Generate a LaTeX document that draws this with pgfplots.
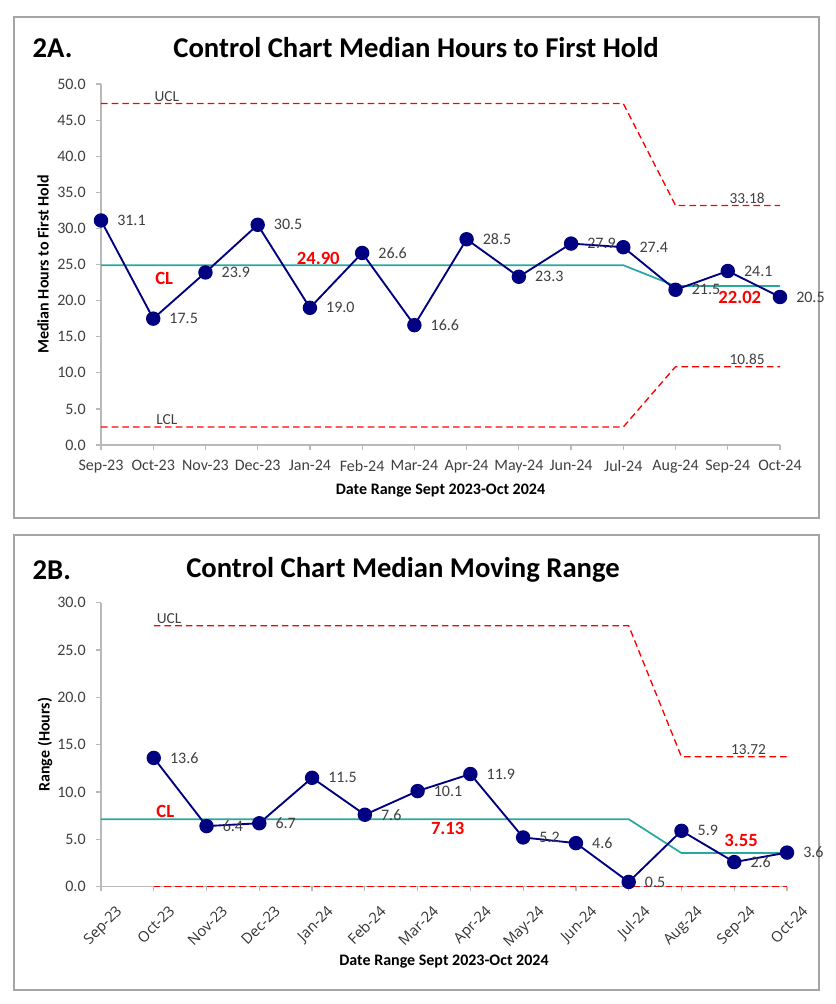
\documentclass[border=0pt]{standalone}
\usepackage{fontspec}
\setmainfont{Carlito}
\newfontfamily\rotfont{Open Sans}
\usepackage{pgfplots}
\usepackage{pgfplotstable}
\pgfplotsset{compat=1.18}

\definecolor{navy}{RGB}{0,0,128}
\definecolor{clteal}{RGB}{40,168,160}
\definecolor{txtgray}{RGB}{64,64,64}
\definecolor{axgray}{RGB}{185,185,185}
\definecolor{framegray}{RGB}{165,165,165}
\definecolor{ctlred}{RGB}{255,0,0}

% 2A: median hours to first hold
\pgfplotstableread{
x y
0 31.1
1 17.5
2 23.9
3 30.5
4 19.0
5 26.6
6 16.6
7 28.5
8 23.3
9 27.9
10 27.4
11 21.5
12 24.1
13 20.5
}\hoursdata

% 2B: moving range
\pgfplotstableread{
x y
1 13.6
2 6.4
3 6.7
4 11.5
5 7.6
6 10.1
7 11.9
8 5.2
9 4.6
10 0.5
11 5.9
12 2.6
13 3.6
}\rangedata

\pgfplotsset{
  ctl/.style={
    scale only axis, xmin=0, xmax=13, ymin=0, clip=false,
    axis x line*=bottom, axis y line*=left,
    axis line style={axgray, line width=0.9pt},
    tick style={axgray, line width=0.9pt},
    tick align=outside, major tick length=3.5pt,
    xtick={0,...,13},
    xticklabels={Sep-23,Oct-23,Nov-23,Dec-23,Jan-24,Feb-24,Mar-24,Apr-24,May-24,Jun-24,Jul-24,Aug-24,Sep-24,Oct-24},
    ticklabel style={font=\fontsize{12}{14}\selectfont, text=txtgray},
    yticklabel style={xshift=-4.5pt, /pgf/number format/.cd, fixed, fixed zerofill, precision=1, assume math mode=true},
    label style={font=\bfseries\fontsize{12}{14}\selectfont, text=black},
  },
  limline/.style={ctlred, line width=1pt, dash pattern=on 5pt off 3pt, no marks},
  clline/.style={clteal, line width=1.3pt, no marks},
  dataline/.style={navy, line width=1.4pt, mark=*, mark size=4.7pt,
    mark options={solid, fill=navy},
    nodes near coords={\pgfmathprintnumber[fixed,fixed zerofill,precision=1,assume math mode=true]{\pgfplotspointmeta}},
    every node near coord/.append style={anchor=west, xshift=10.5pt, inner sep=1pt,
      font=\fontsize{12}{14}\selectfont, text=txtgray}},
}
\tikzset{
  limlabel/.style={font=\fontsize{11.5}{13}\selectfont, text=txtgray, anchor=south, inner sep=1.5pt},
  redlabel/.style={font=\bfseries\fontsize{14}{16}\selectfont, text=ctlred},
}

\begin{document}
\begin{tikzpicture}
\useasboundingbox (0,0) rectangle (627pt,-753pt);
\fill[white] (0,0) rectangle (627pt,-753pt);
\draw[framegray, line width=1pt] (10.5pt,-12.75pt) rectangle (614.25pt,-388.5pt);
\draw[framegray, line width=1pt] (10.5pt,-401.25pt) rectangle (614.25pt,-742.5pt);

\node[anchor=west, font=\bfseries\fontsize{21.5}{24}\selectfont] at (21pt,-36pt) {2A.};
\node[font=\bfseries\fontsize{21.5}{24}\selectfont] at (312pt,-36pt) {Control Chart Median Hours to First Hold};
\node[anchor=west, font=\bfseries\fontsize{21.5}{24}\selectfont] at (21pt,-427.5pt) {2B.};
\node[font=\bfseries\fontsize{21.5}{24}\selectfont] at (302.25pt,-427.5pt) {Control Chart Median Moving Range};

\begin{axis}[ctl,
  at={(75.75pt,-333.75pt)}, anchor=south west,
  width=509.25pt, height=270.75pt,
  ymax=50, ytick={0,5,...,50},
  xticklabel style={yshift=-4.5pt},
  xlabel={Date Range Sept 2023-Oct 2024},
  xlabel style={at={(axis description cs:0.5,0)}, anchor=center, yshift=-34pt},
  ylabel={Median Hours to First Hold},
  ylabel style={at={(axis description cs:-0.0855,0.5)}, anchor=center},
]
\addplot[limline] coordinates {(0,47.3) (10,47.3) (11,33.18) (13,33.18)};
\addplot[limline] coordinates {(0,2.5) (10,2.5) (11,10.85) (13,10.85)};
\addplot[clline] coordinates {(0,24.9) (10,24.9) (11,22.02) (13,22.02)};
\addplot[dataline] table[x=x, y=y] {\hoursdata};
\node[limlabel] at (axis cs:1.26,47.3) {UCL};
\node[limlabel] at (axis cs:1.26,2.5) {LCL};
\node[limlabel] at (axis cs:12.37,33.18) {33.18};
\node[limlabel] at (axis cs:12.37,10.85) {10.85};
\node[redlabel] at (axis cs:1.21,23.1) {CL};
\node[redlabel] at (axis cs:4.16,25.8) {24.90};
\node[redlabel] at (axis cs:12.23,20.5) {22.02};
\end{axis}

\begin{axis}[ctl,
  at={(75.75pt,-665pt)}, anchor=south west,
  width=514.5pt, height=213pt,
  ymax=30, ytick={0,5,...,30},
  xticklabel style={font=\rotfont\fontsize{11}{13}\selectfont, text=black!80, rotate=45, anchor=north east, xshift=4pt, yshift=-11pt},
  xlabel={Date Range Sept 2023-Oct 2024},
  xlabel style={at={(axis description cs:0.5,0)}, anchor=center, yshift=-56.5pt},
  ylabel={Range (Hours)},
  ylabel style={at={(axis description cs:-0.0817,0.5)}, anchor=center},
]
\addplot[limline] coordinates {(1,27.56) (10,27.56) (11,13.72) (13,13.72)};
\addplot[limline] coordinates {(1,0) (13,0)};
\addplot[clline] coordinates {(0,7.13) (10,7.13) (11,3.55) (13,3.55)};
\addplot[dataline] table[x=x, y=y] {\rangedata};
\node[limlabel] at (axis cs:1.29,27.56) {UCL};
\node[limlabel] at (axis cs:12.27,13.72) {13.72};
\node[redlabel] at (axis cs:1.22,7.9) {CL};
\node[redlabel] at (axis cs:6.57,6.17) {7.13};
\node[redlabel] at (axis cs:12.13,4.86) {3.55};
\end{axis}
\end{tikzpicture}
\end{document}
